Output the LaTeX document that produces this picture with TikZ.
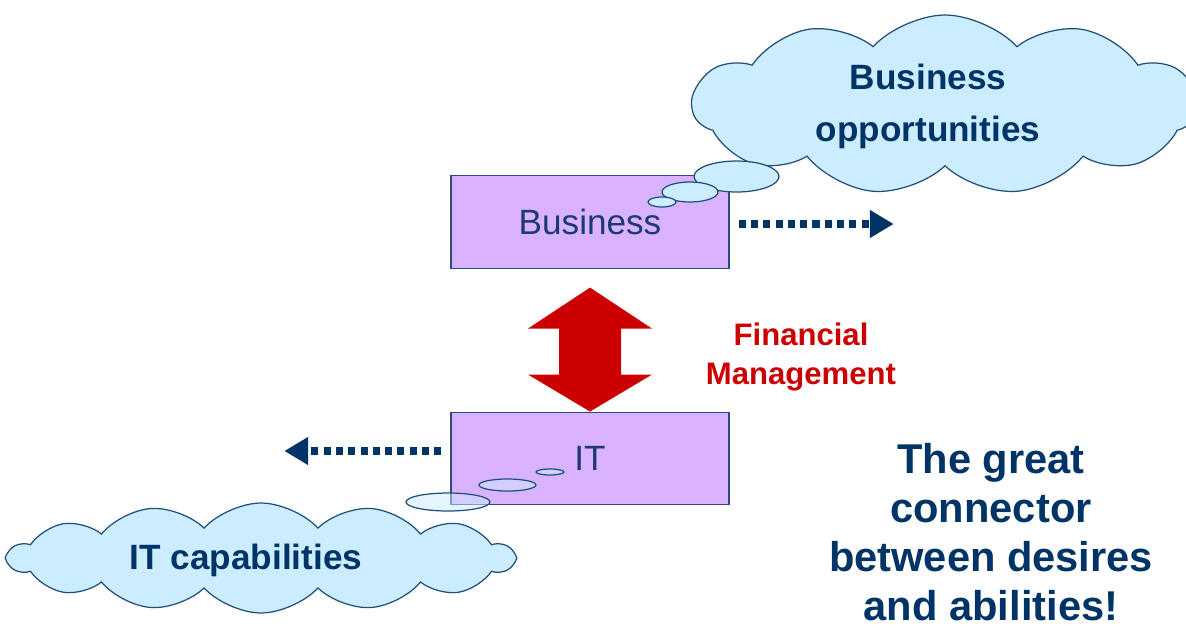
\documentclass[tikz,border=0pt]{standalone}
\usepackage{fontspec}
\setmainfont{Liberation Sans}
\usepackage{xcolor}
\usetikzlibrary{shapes,arrows.meta,positioning,calc}

\definecolor{navy}{HTML}{003366}
\definecolor{boxtext}{HTML}{1B3A6E}
\definecolor{boxfill}{HTML}{D9B3FF}
\definecolor{boxline}{HTML}{2E4A86}
\definecolor{cloudfill}{HTML}{CCECFF}
\definecolor{cloudline}{HTML}{1F4E79}
\definecolor{fmred}{HTML}{CC0000}

\begin{document}
\begin{tikzpicture}[x=0.02cm, y=-0.02cm,
    box/.style={draw=boxline, fill=boxfill, line width=0.8pt, minimum width=5.56cm, minimum height=1.85cm, text=boxtext, font=\fontsize{20}{24}\selectfont},
    cloudnode/.style={cloud, cloud ignores aspect, cloud puff arc=95, draw=cloudline, fill=cloudfill, line width=0.7pt, inner sep=0pt},
    cloudtext/.style={text=navy, align=center, font=\bfseries\fontsize{20}{29.5}\selectfont},
    bubble/.style={ellipse, draw=cloudline, fill=cloudfill, line width=0.7pt, inner sep=0pt},
    dotarrow/.style={draw=navy, line width=4.6pt, dash pattern=on 4pt off 3pt, -{Triangle[length=13.5pt,width=15pt]}}]
        \useasboundingbox (0,0) rectangle (1186,629);
        \clip (0,0) rectangle (1186,629);

        % Clouds
        \node[cloudnode, cloud puffs=11, minimum width=10.1cm, minimum height=3.6cm] (opp) at (945,105) {};
        \node[cloudtext] (opptext) at (928,106) {Business\\opportunities};
        \node[cloudnode, cloud puffs=14, minimum width=10.1cm, minimum height=2.2cm] (cap) at (261,558) {};
        \node[cloudtext] (captext) at (246,560) {IT capabilities};

        % Boxes
        \node[box] (biz) at (590,222) {Business};
        \node[box] (it) at (590,458.5) {IT};

        % Thought bubbles
        \node[bubble, minimum width=1.7cm, minimum height=0.62cm] (b1) at (736.5,176.5) {};
        \node[bubble, minimum width=1.12cm, minimum height=0.4cm] (b2) at (690,192) {};
        \node[bubble, minimum width=0.56cm, minimum height=0.2cm] (b3) at (662,202) {};
        \node[bubble, fill opacity=0.5, minimum width=1.68cm, minimum height=0.36cm] (c1) at (448,502) {};
        \node[bubble, fill opacity=0.5, minimum width=1.14cm, minimum height=0.24cm] (c2) at (507.5,485) {};
        \node[bubble, fill opacity=0.5, minimum width=0.56cm, minimum height=0.12cm] (c3) at (550,472) {};

        % Double arrow between the boxes
        \fill[fmred] (it.north) -- ++(62,-37) -- ++(-31,0) -- ++(0,-46) -- ++(31,0) -- ++(-62,-41)
            -- ++(-62,41) -- ++(31,0) -- ++(0,46) -- ++(-31,0) -- cycle;
        \node[text=fmred, align=center, font=\bfseries\fontsize{17.7}{22}\selectfont] (fm) at (801,357) {Financial\\Management};

        % Dotted arrows
        \coordinate (bizend) at ($(biz.east)+(164,2)$);
        \coordinate (itend) at ($(it.west)+(-166,-7.5)$);
        \draw[dotarrow] ($(biz.east)+(9,2)$) -- (bizend);
        \draw[dotarrow] ($(it.west)+(-9,-7.5)$) -- (itend);

        % Message
        \node[text=navy, align=center, font=\bfseries\fontsize{23.7}{28}\selectfont] (msg) at (991,532) {The great\\connector\\between desires\\and abilities!};
    \end{tikzpicture}
\end{document}
